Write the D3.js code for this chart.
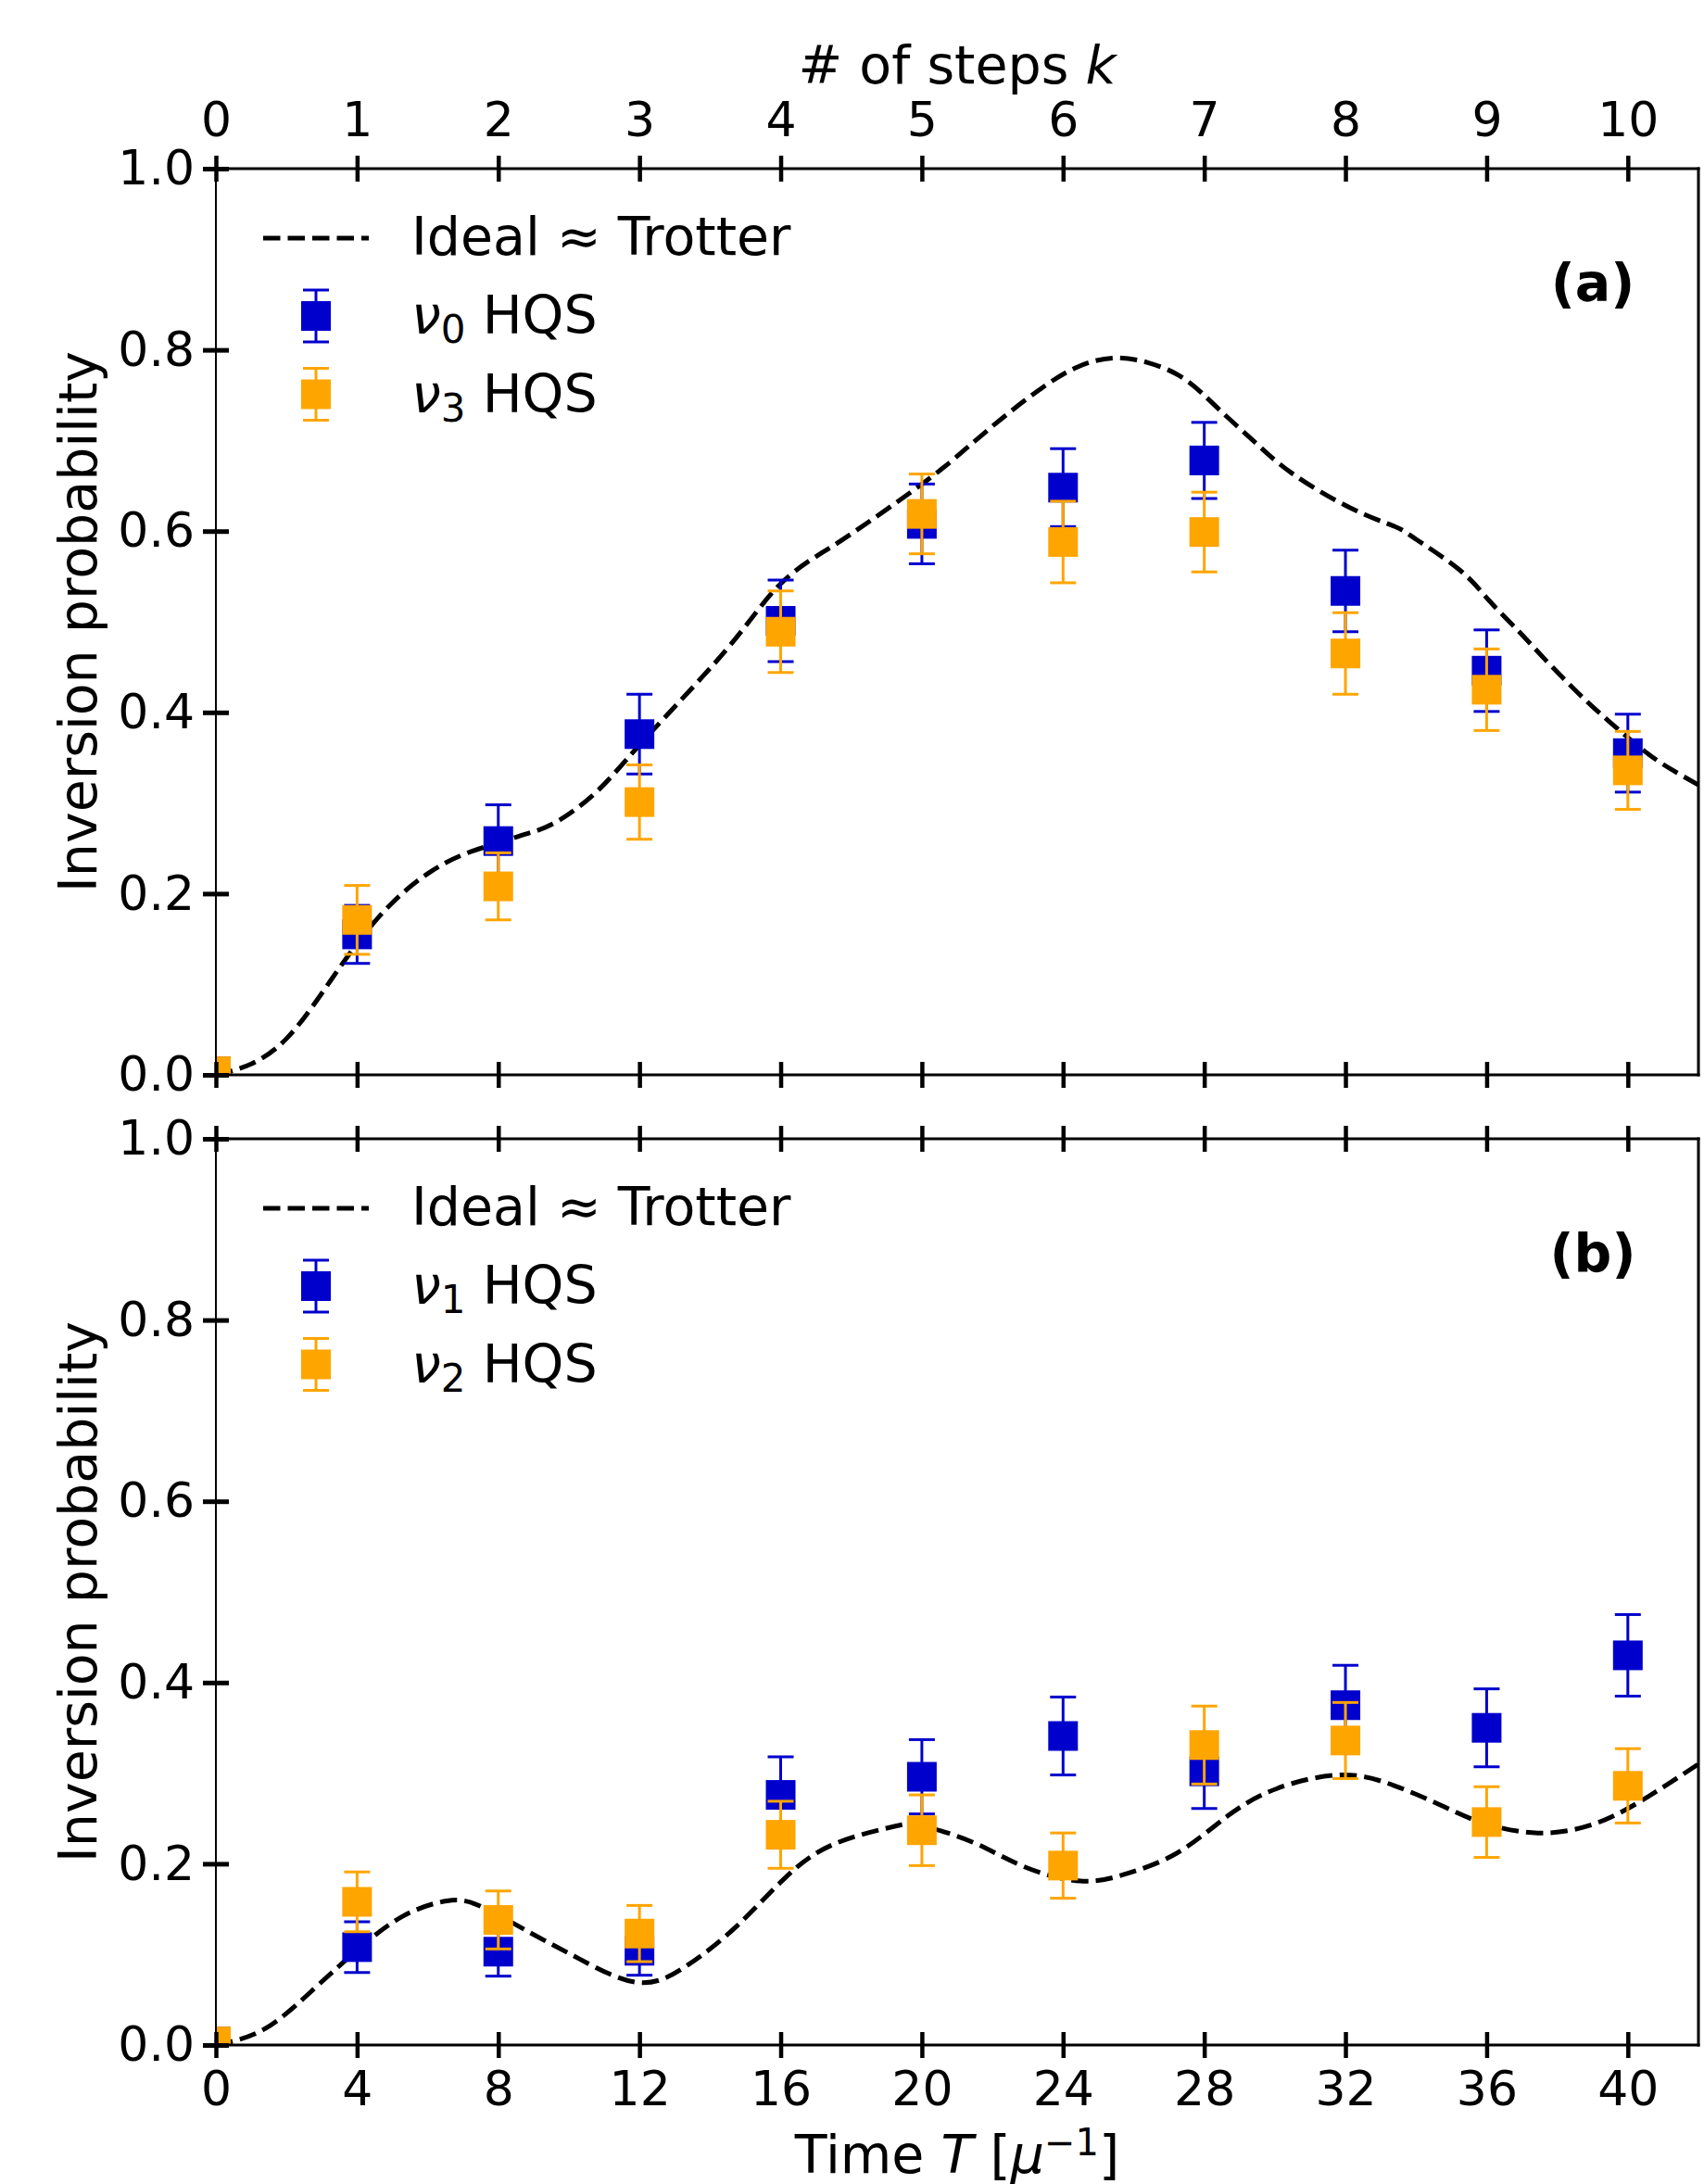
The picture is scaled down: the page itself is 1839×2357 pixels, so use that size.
<!DOCTYPE html>
<html><head><meta charset="utf-8">
<script src="https://cdn.jsdelivr.net/npm/d3@7"></script>
<style>body{margin:0;background:#fff} svg{display:block;background:#fff} text{font-family:"DejaVu Sans",sans-serif}</style>
</head><body><svg id="c" width="1839" height="2357"></svg>
<script>
// ---------------- data ----------------
const stepTicks = [0,1,2,3,4,5,6,7,8,9,10];
const timeTicks = [0,4,8,12,16,20,24,28,32,36,40];
const probTicks = [0,0.2,0.4,0.6,0.8,1.0];

// panel (a)
const aNu0    = [0.004,0.155,0.258,0.376,0.501,0.608,0.648,0.678,0.534,0.446,0.355];
const aNu0Err = [0,0.032,0.040,0.044,0.045,0.044,0.043,0.042,0.045,0.045,0.043];
const aNu3    = [0.004,0.171,0.208,0.301,0.489,0.619,0.588,0.599,0.465,0.425,0.336];
const aNu3Err = [0,0.038,0.037,0.041,0.045,0.044,0.045,0.044,0.045,0.045,0.043];
const idealA_T = [0,1,2,3,4,5,6,7,8,8.8,9.64,10.8,12,13.8,15,16,17,17.96,20.04,21.28,22.32,23.4,24.4,25.4,26.4,27.44,28.4,29.44,30.48,32.12,33.4,34,35.24,36.08,36.92,37.64,38.6,39.44,40.48,41.28,42];
const idealA_P = [0,0.012,0.04,0.09,0.145,0.19,0.222,0.243,0.256,0.266,0.279,0.313,0.364,0.44,0.495,0.542,0.572,0.596,0.653,0.692,0.726,0.758,0.781,0.791,0.786,0.768,0.735,0.698,0.664,0.626,0.605,0.591,0.557,0.523,0.489,0.459,0.421,0.391,0.357,0.336,0.32];

// panel (b)
const bNu1    = [0.004,0.108,0.103,0.104,0.276,0.296,0.341,0.302,0.375,0.350,0.430];
const bNu1Err = [0,0.028,0.027,0.027,0.042,0.041,0.043,0.041,0.044,0.043,0.045];
const bNu2    = [0.004,0.158,0.138,0.123,0.232,0.237,0.198,0.331,0.336,0.246,0.286];
const bNu2Err = [0,0.033,0.032,0.031,0.037,0.039,0.036,0.043,0.042,0.039,0.041];
const idealB_T = [0,1.39,2.78,4.04,5.29,6.54,7.51,8.9,10.3,11.97,13.36,14.75,16.14,17.53,19.2,20.0,21.43,22.82,24.49,25.88,27.28,28.67,30.06,31.87,33.4,34.79,35.9,37.44,38.97,40.36,42];
const idealB_P = [0,0.018,0.062,0.106,0.142,0.159,0.153,0.124,0.095,0.069,0.088,0.131,0.185,0.222,0.241,0.242,0.224,0.198,0.181,0.19,0.213,0.253,0.283,0.298,0.286,0.263,0.245,0.234,0.243,0.269,0.31];

const BLUE = "#0000CD", ORANGE = "#FFA500";
const FONT = "DejaVu Sans";
const TICKFS = 52, LABFS = 57;

// ---------------- drawing ----------------
const svg = d3.select("#c");
const L = 233, R = 1833;

const panels = [
  {id:"a", top:182, bottom:1160, label:"(a)", topLabels:true, bottomLabels:false,
   curveT:idealA_T, curveP:idealA_P,
   series:[{v:aNu0,e:aNu0Err,color:BLUE,sub:"0"},{v:aNu3,e:aNu3Err,color:ORANGE,sub:"3"}]},
  {id:"b", top:1229, bottom:2207, label:"(b)", topLabels:false, bottomLabels:true,
   curveT:idealB_T, curveP:idealB_P,
   series:[{v:bNu1,e:bNu1Err,color:BLUE,sub:"1"},{v:bNu2,e:bNu2Err,color:ORANGE,sub:"2"}]}
];

const DASH = "18.5,8", LW = 5, CAP = 14, SQ = 32, EW = 3;

panels.forEach(p => {
  const x = d3.scaleLinear().domain([0,42]).range([L,R]);
  const xk = d3.scaleLinear().domain([0,10.5]).range([L,R]);
  const y = d3.scaleLinear().domain([0,1]).range([p.bottom,p.top]);
  const g = svg.append("g");

  svg.append("clipPath").attr("id","clip"+p.id).append("rect")
    .attr("x",L).attr("y",p.top).attr("width",R-L).attr("height",p.bottom-p.top);
  const plot = g.append("g").attr("clip-path",`url(#clip${p.id})`);

  // ideal curve
  plot.append("path").datum(d3.zip(p.curveT,p.curveP))
    .attr("d", d3.line().x(d=>x(d[0])).y(d=>y(d[1])).curve(d3.curveNatural))
    .attr("fill","none").attr("stroke","#000").attr("stroke-width",LW).attr("stroke-dasharray",DASH);

  // error bars + markers
  p.series.forEach(s => {
    const pts = timeTicks.map((t,i)=>({t, v:s.v[i], e:s.e[i]}));
    const sg = plot.append("g");
    sg.selectAll("line.bar").data(pts).join("line").attr("class","bar")
      .attr("x1",d=>x(d.t)).attr("x2",d=>x(d.t))
      .attr("y1",d=>y(d.v-d.e)).attr("y2",d=>y(d.v+d.e))
      .attr("stroke",s.color).attr("stroke-width",EW);
    ["lo","hi"].forEach(k => {
      sg.selectAll("line.cap"+k).data(pts.filter(d=>d.e>0)).join("line").attr("class","cap"+k)
        .attr("x1",d=>x(d.t)-CAP).attr("x2",d=>x(d.t)+CAP)
        .attr("y1",d=>y(k==="lo"?d.v-d.e:d.v+d.e)).attr("y2",d=>y(k==="lo"?d.v-d.e:d.v+d.e))
        .attr("stroke",s.color).attr("stroke-width",EW);
    });
    sg.selectAll("rect.m").data(pts).join("rect").attr("class","m")
      .attr("x",d=>x(d.t)-SQ/2).attr("y",d=>y(d.v)-SQ/2)
      .attr("width",SQ).attr("height",SQ).attr("fill",s.color);
  });

  // spines
  g.append("line").attr("x1",L).attr("x2",L).attr("y1",p.top).attr("y2",p.bottom).attr("stroke","#000").attr("stroke-width",2);
  g.append("line").attr("x1",R).attr("x2",R).attr("y1",p.top).attr("y2",p.bottom).attr("stroke","#000").attr("stroke-width",3).attr("stroke-linecap","square");
  g.append("line").attr("x1",L).attr("x2",R).attr("y1",p.top).attr("y2",p.top).attr("stroke","#000").attr("stroke-width",3).attr("stroke-linecap","square");
  g.append("line").attr("x1",L).attr("x2",R).attr("y1",p.bottom).attr("y2",p.bottom).attr("stroke","#000").attr("stroke-width",3).attr("stroke-linecap","square");

  const styleAxis = (a) => {
    a.select(".domain").remove();
    a.attr("font-size",TICKFS).attr("font-family",FONT);
    a.selectAll(".tick text").attr("fill","#000");
  };

  // bottom axis
  g.append("g").attr("transform",`translate(0,${p.bottom})`)
    .call(d3.axisBottom(x).tickValues(timeTicks).tickSizeInner(14).tickSizeOuter(0).tickPadding(14)
      .tickFormat(p.bottomLabels ? d3.format("d") : ()=>""))
    .call(a=>{styleAxis(a); a.selectAll(".tick line").attr("y1",-14).attr("stroke-width",4.5);});

  // top axis
  const topAx = p.topLabels
    ? d3.axisTop(xk).tickValues(stepTicks).tickFormat(d3.format("d"))
    : d3.axisTop(x).tickValues(timeTicks).tickFormat(()=>"");
  g.append("g").attr("transform",`translate(0,${p.top})`)
    .call(topAx.tickSizeInner(14).tickSizeOuter(0).tickPadding(21))
    .call(a=>{styleAxis(a); a.selectAll(".tick line").attr("y1",14).attr("stroke-width",4.5);});

  // left axis
  g.append("g").attr("transform",`translate(${L},0)`)
    .call(d3.axisLeft(y).tickValues(probTicks).tickFormat(d3.format(".1f")).tickSizeInner(14).tickSizeOuter(0).tickPadding(9))
    .call(a=>{styleAxis(a); a.selectAll(".tick line").attr("x1",14).attr("stroke-width",5);});

  // y label
  g.append("text").attr("transform",`translate(104,${(p.top+p.bottom)/2}) rotate(-90)`)
    .attr("text-anchor","middle").attr("font-size",LABFS).attr("font-family",FONT).text("Inversion probability");

  // panel label
  g.append("text").attr("x",1719).attr("y",p.top+143).attr("text-anchor","middle")
    .attr("font-size",LABFS).attr("font-weight","bold").attr("font-family",FONT).text(p.label);

  // legend
  const lg = g.append("g");
  lg.append("line").attr("x1",284).attr("x2",398).attr("y1",p.top+75).attr("y2",p.top+75)
    .attr("stroke","#000").attr("stroke-width",LW).attr("stroke-dasharray",DASH);
  lg.append("text").attr("x",444).attr("y",p.top+93).attr("font-size",LABFS).attr("font-family",FONT).text("Ideal \u2248 Trotter");
  p.series.forEach((s,i) => {
    const yc = p.top + 159 + i*84.5;
    const xc = 341;
    lg.append("line").attr("x1",xc).attr("x2",xc).attr("y1",yc-28).attr("y2",yc+28).attr("stroke",s.color).attr("stroke-width",EW);
    [-28,28].forEach(o=>lg.append("line").attr("x1",xc-CAP).attr("x2",xc+CAP).attr("y1",yc+o).attr("y2",yc+o).attr("stroke",s.color).attr("stroke-width",EW));
    lg.append("rect").attr("x",xc-SQ/2).attr("y",yc-SQ/2).attr("width",SQ).attr("height",SQ).attr("fill",s.color);
    const t = lg.append("text").attr("x",444).attr("y",yc+19).attr("font-size",LABFS).attr("font-family",FONT);
    t.append("tspan").attr("font-style","italic").text("\u03bd");
    t.append("tspan").attr("font-size",42).attr("dy",10).text(s.sub);
    t.append("tspan").attr("dy",-10).text(" HQS");
  });
});

// top title
const tt = svg.append("text").attr("x",1033).attr("y",90).attr("text-anchor","middle").attr("font-size",LABFS).attr("font-family",FONT);
tt.append("tspan").text("# of steps ");
tt.append("tspan").attr("font-style","italic").text("k");

// x label
const xl = svg.append("text").attr("x",1033).attr("y",2345).attr("text-anchor","middle").attr("font-size",LABFS).attr("font-family",FONT);
xl.append("tspan").text("Time ");
xl.append("tspan").attr("font-style","italic").text("T");
xl.append("tspan").text(" [");
xl.append("tspan").attr("font-style","italic").text("\u03bc");
xl.append("tspan").attr("font-size",40).attr("dy",-19).text("\u22121");
xl.append("tspan").attr("dy",19).text("]");
</script></body></html>
